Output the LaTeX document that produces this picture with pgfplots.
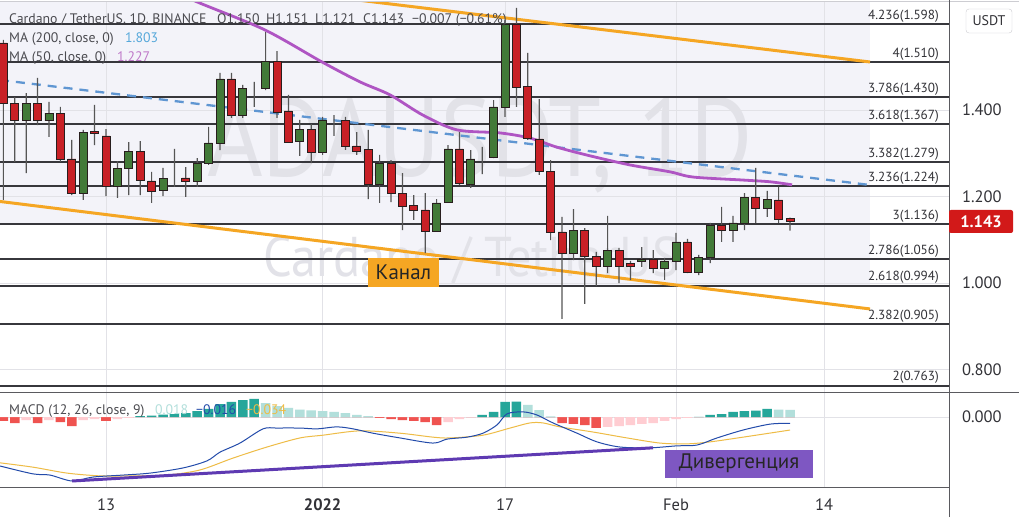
\documentclass[border=0pt]{standalone}
\usepackage{pgfplots}
\pgfplotsset{compat=1.18}
\usepackage{pgfplotstable}
\usepackage{fontspec}
\setmainfont{PT Sans}

\definecolor{candlered}{RGB}{200,32,38}
\definecolor{candlegreen}{RGB}{66,122,56}
\definecolor{candleborder}{RGB}{40,30,30}
\definecolor{wickcol}{RGB}{85,85,85}
\definecolor{fibcol}{RGB}{55,55,60}
\definecolor{chanorange}{RGB}{245,166,35}
\definecolor{dashblue}{RGB}{95,150,210}
\definecolor{mapurple}{RGB}{175,85,195}
\definecolor{gridcol}{RGB}{226,226,231}
\definecolor{lavbg}{RGB}{243,243,249}
\definecolor{wmcol}{RGB}{226,226,232}
\definecolor{textgray}{RGB}{75,75,80}
\definecolor{axtext}{RGB}{50,50,55}
\definecolor{macdblue}{RGB}{35,75,170}
\definecolor{sigyellow}{RGB}{238,188,70}
\definecolor{histteal}{RGB}{38,166,154}
\definecolor{histlteal}{RGB}{178,223,219}
\definecolor{histred}{RGB}{239,83,80}
\definecolor{histpink}{RGB}{255,205,210}
\definecolor{divpurple}{RGB}{94,58,178}
\definecolor{divbox}{RGB}{126,87,194}
\definecolor{tagred}{RGB}{210,25,25}
\definecolor{framecol}{RGB}{90,90,95}
\definecolor{boxgray}{RGB}{205,205,210}
\definecolor{ma200}{RGB}{86,168,218}
\definecolor{ma50}{RGB}{190,120,200}

% day index: 0 = 13 Dec 2021
\pgfplotstableread{
d o h l c
-9 1.555 1.562 1.192 1.416
-8 1.416 1.430 1.280 1.375
-7 1.375 1.439 1.254 1.416
-6 1.416 1.474 1.365 1.375
-5 1.375 1.419 1.338 1.393
-4 1.393 1.407 1.280 1.287
-3 1.287 1.331 1.203 1.208
-2 1.208 1.354 1.192 1.349
-1 1.351 1.412 1.319 1.345
0 1.340 1.356 1.201 1.224
1 1.224 1.282 1.197 1.264
2 1.266 1.326 1.203 1.305
3 1.305 1.328 1.203 1.238
4 1.236 1.257 1.185 1.213
5 1.215 1.266 1.201 1.241
6 1.241 1.310 1.222 1.241
7 1.243 1.268 1.199 1.234
8 1.234 1.289 1.222 1.277
9 1.277 1.361 1.273 1.324
10 1.324 1.486 1.307 1.472
11 1.472 1.486 1.382 1.388
12 1.388 1.458 1.382 1.449
13 1.451 1.465 1.407 1.451
14 1.451 1.580 1.446 1.513
15 1.513 1.536 1.382 1.395
16 1.398 1.435 1.324 1.326
17 1.328 1.377 1.294 1.356
18 1.356 1.368 1.277 1.303
19 1.303 1.384 1.296 1.377
20 1.375 1.388 1.340 1.375
21 1.375 1.384 1.308 1.315
22 1.317 1.349 1.296 1.305
23 1.308 1.354 1.194 1.227
24 1.227 1.296 1.185 1.277
25 1.277 1.284 1.187 1.208
26 1.208 1.254 1.122 1.178
27 1.180 1.203 1.146 1.167
28 1.169 1.208 1.069 1.120
29 1.120 1.194 1.118 1.185
30 1.187 1.319 1.185 1.310
31 1.310 1.349 1.227 1.231
32 1.229 1.307 1.220 1.287
33 1.291 1.315 1.252 1.291
34 1.291 1.423 1.289 1.407
35 1.407 1.608 1.384 1.599
36 1.599 1.636 1.407 1.453
37 1.455 1.532 1.331 1.335
38 1.333 1.425 1.250 1.257
39 1.257 1.284 1.099 1.118
40 1.118 1.153 0.917 1.069
41 1.069 1.171 1.053 1.122
42 1.122 1.127 0.952 1.062
43 1.062 1.072 0.993 1.039
44 1.039 1.155 1.023 1.076
45 1.076 1.081 1.000 1.039
46 1.046 1.051 1.007 1.039
47 1.049 1.083 1.037 1.055
48 1.055 1.076 1.023 1.035
49 1.035 1.058 1.007 1.051
50 1.051 1.116 1.030 1.095
51 1.095 1.102 1.023 1.025
52 1.025 1.065 1.018 1.060
53 1.060 1.139 1.046 1.134
54 1.134 1.176 1.095 1.122
55 1.122 1.155 1.095 1.139
56 1.139 1.208 1.122 1.197
57 1.197 1.266 1.139 1.173
58 1.173 1.213 1.153 1.194
59 1.192 1.222 1.139 1.148
60 1.150 1.151 1.121 1.143
}\candles

\pgfplotstableread{
d v
6.00 1.673
8.25 1.647
13.95 1.585
18.95 1.511
22.28 1.465
24.91 1.435
27.81 1.388
30.79 1.354
34.56 1.347
37.19 1.335
39.56 1.314
42.46 1.294
45.96 1.273
49.47 1.257
51.49 1.245
55.88 1.238
58.25 1.234
60.18 1.227
}\maf

\pgfplotstableread{
d v
-9.30 -0.124
-6.40 -0.144
-4.91 -0.147
-2.98 -0.162
-1.14 -0.152
1.49 -0.147
3.86 -0.142
6.75 -0.129
8.86 -0.111
10.00 -0.089
11.75 -0.066
13.77 -0.030
15.00 -0.028
17.02 -0.028
18.51 -0.030
20.26 -0.025
21.67 -0.030
23.42 -0.041
25.79 -0.053
28.68 -0.066
29.91 -0.056
31.67 -0.051
33.07 -0.041
34.30 -0.020
35.18 0.008
36.58 0.013
37.81 0.005
39.21 -0.015
41.32 -0.041
43.07 -0.063
45.09 -0.076
47.72 -0.078
50.09 -0.073
51.84 -0.071
53.60 -0.053
55.88 -0.033
58.25 -0.018
60.00 -0.016
}\macd

\pgfplotstableread{
d v
-9.30 -0.116
-6.40 -0.127
-3.42 -0.142
-0.53 -0.149
2.37 -0.149
5.35 -0.147
8.25 -0.134
11.14 -0.104
14.12 -0.076
17.02 -0.053
19.04 -0.046
22.28 -0.035
25.79 -0.041
28.68 -0.051
30.18 -0.053
33.07 -0.046
35.44 -0.028
37.19 -0.015
38.33 -0.015
39.82 -0.025
42.72 -0.038
45.70 -0.053
48.60 -0.066
50.96 -0.068
52.98 -0.063
55.88 -0.051
60.00 -0.033
}\sig

% k: 0 rising positive, 1 falling positive, 2 falling negative, 3 rising negative
\pgfplotstableread{
d v k
-9 -0.0101 2
-8 -0.0152 2
-7 -0.0076 3
-6 -0.0152 2
-5 -0.0076 3
-4 -0.0127 2
-3 -0.0228 2
-2 -0.0076 3
-1 -0.0051 3
0 -0.0101 2
1 -0.0051 3
2 -0.0025 3
3 0.0025 0
4 0.0038 0
5 0.0063 0
6 0.0076 0
7 0.0101 0
8 0.0152 0
9 0.0203 0
10 0.0329 0
11 0.0380 0
12 0.0430 0
13 0.0456 0
14 0.0354 1
15 0.0278 1
16 0.0228 1
17 0.0185 1
18 0.0170 1
19 0.0152 1
20 0.0127 1
21 0.0101 1
22 0.0051 1
23 0.0025 1
24 -0.0025 2
25 -0.0051 2
26 -0.0076 2
27 -0.0101 2
28 -0.0127 2
29 -0.0203 2
30 -0.0127 3
31 -0.0051 3
32 -0.0013 3
33 0.0051 0
34 0.0127 0
35 0.0380 0
36 0.0390 0
37 0.0304 1
38 0.0177 1
39 0.0013 1
40 -0.0152 2
41 -0.0177 2
42 -0.0203 2
43 -0.0278 2
44 -0.0253 3
45 -0.0228 3
46 -0.0203 3
47 -0.0177 3
48 -0.0152 3
49 -0.0101 3
50 -0.0051 3
51 -0.0025 3
52 0.0005 0
53 0.0051 0
54 0.0076 0
55 0.0127 0
56 0.0152 0
57 0.0160 0
58 0.0203 0
59 0.0190 1
60 0.0180 1
}\hist

\newcommand{\lf}{\fontsize{13.8}{16}\selectfont}
\newcommand{\af}{\fontsize{16.5}{19}\selectfont}

\pgfplotsset{
  mainbox/.style={at={(0pt,515pt)}, anchor=north west, scale only axis,
    width=949pt, height=390pt,
    xmin=-9.298, xmax=73.947, ymin=0.748, ymax=1.6497},
}

\begin{document}
\begin{tikzpicture}[x=1pt,y=1pt]
\useasboundingbox (0pt,0pt) rectangle (1019pt,517pt);
\fill[white] (0pt,0pt) rectangle (1019pt,517pt);
% shaded zone
\fill[lavbg] (0pt,292pt) rectangle (870pt,515pt);
\fill[lavbg] (400pt,232pt) rectangle (870pt,292pt);
% watermark
\node[text=wmcol, font=\fontsize{112}{112}\selectfont, xscale=0.85, inner sep=0] at (480pt,372pt) {ADAUSDT, 1D};
\node[text=wmcol, font=\fontsize{56}{56}\selectfont, xscale=0.9, inner sep=0] at (471pt,257pt) {Cardano / TetherUS};

% main price panel
\begin{axis}[mainbox,
  axis line style={draw=none}, tick style={draw=none},
  xtick={0,19,35,50,63}, xticklabels={,,,,},
  ytick={0.8,1.0,1.2,1.4}, yticklabels={0.800,1.000,1.200,1.400},
  yticklabel pos=right,
  yticklabel style={anchor=west, inner sep=0pt, xshift=13pt, font=\af, text=axtext},
  grid=major, major grid style={gridcol, line width=0.8pt},
]
\pgfplotsinvokeforeach{1.598,1.510,1.430,1.367,1.279,1.224,1.136,1.056,0.994,0.905,0.763}{
  \addplot[fibcol, line width=2pt, forget plot] coordinates {(-10,#1) (80,#1)};
}
\addplot[chanorange, line width=3pt] coordinates {(-9.298,1.1885) (67.02,0.940)};
\addplot[chanorange, line width=3pt] coordinates {(14.0,1.680) (67.02,1.511)};
\addplot[dashblue, line width=2.3pt, dash pattern=on 9pt off 7pt] coordinates {(-9.298,1.4694) (67.02,1.2266)};
\addplot[mapurple, line width=2.8pt, smooth] table[x=d,y=v] {\maf};
\end{axis}

% wicks
\begin{axis}[mainbox, hide axis, ybar stacked, bar width=1.2pt]
\addplot[draw=none, fill=none] table[x=d, y=l] {\candles};
\addplot[draw=none, fill=wickcol] table[x=d, y expr={\thisrow{h}-\thisrow{l}}] {\candles};
\end{axis}

% bodies
\begin{axis}[mainbox, hide axis, ybar stacked, bar width=8pt]
\addplot[draw=none, fill=none] table[x=d, y expr={min(\thisrow{o},\thisrow{c})}] {\candles};
\addplot[fill=candlered, draw=candleborder, line width=0.7pt] table[x=d, y expr={(\thisrow{c}<\thisrow{o})*(\thisrow{o}-\thisrow{c})}] {\candles};
\addplot[fill=candlegreen, draw=candleborder, line width=0.7pt] table[x=d, y expr={(\thisrow{c}>=\thisrow{o})*(\thisrow{c}-\thisrow{o})}] {\candles};
\end{axis}

% MACD panel
\begin{axis}[at={(0pt,125pt)}, anchor=north west, scale only axis,
  width=949pt, height=95pt,
  xmin=-9.298, xmax=73.947, ymin=-0.1772, ymax=0.0633,
  axis line style={draw=none}, tick style={draw=none},
  xtick={0,19,35,50,63}, xticklabels={13,\textbf{2022},17,Feb,14},
  xticklabel style={anchor=center, yshift=-18pt, inner sep=0pt, font=\af, text=axtext},
  ytick={0}, yticklabels={0.000}, yticklabel pos=right,
  yticklabel style={anchor=west, inner sep=0pt, xshift=13pt, font=\af, text=axtext},
  grid=major, major grid style={gridcol, line width=0.8pt},
]
\addplot[ybar, bar width=9.5pt, bar shift=0pt, fill=histteal, draw=none] table[x=d, y expr={(\thisrow{k}==0)*\thisrow{v}}] {\hist};
\addplot[ybar, bar width=9.5pt, bar shift=0pt, fill=histlteal, draw=none] table[x=d, y expr={(\thisrow{k}==1)*\thisrow{v}}] {\hist};
\addplot[ybar, bar width=9.5pt, bar shift=0pt, fill=histred, draw=none] table[x=d, y expr={(\thisrow{k}==2)*\thisrow{v}}] {\hist};
\addplot[ybar, bar width=9.5pt, bar shift=0pt, fill=histpink, draw=none] table[x=d, y expr={(\thisrow{k}==3)*\thisrow{v}}] {\hist};
\addplot[sigyellow, line width=1pt, smooth] table[x=d,y=v] {\sig};
\addplot[macdblue, line width=1pt, smooth] table[x=d,y=v] {\macd};
\addplot[divpurple, line width=3pt] coordinates {(-2.98,-0.162) (47.98,-0.078)};
\end{axis}

% frames
\draw[boxgray, line width=0.8pt] (0pt,515.5pt) -- (1019pt,515.5pt);
\draw[framecol, line width=1pt] (0pt,125pt) -- (1019pt,125pt);
\draw[framecol, line width=1pt] (0pt,30pt) -- (949pt,30pt);
\draw[framecol, line width=1pt] (949pt,0pt) -- (949pt,517pt);

% fib labels
\foreach \yy/\lbl in {24.4/4.236(1.598), 62.4/4(1.510), 97.0/3.786(1.430), 124.3/3.618(1.367), 162.3/3.382(1.279), 186.1/3.236(1.224), 224.2/3(1.136), 258.8/2.786(1.056), 285.6/2.618(0.994), 324.1/2.382(0.905), 385.5/2(0.763)}{
  \node[anchor=south east, inner sep=0pt, font=\fontsize{13.2}{15}\selectfont, text=axtext] at (939pt,{(517-\yy+1.5)*1pt}) {\lbl};
}

% legends
\node[anchor=base west, inner sep=0, font=\lf, text=textgray] at (9pt,493.5pt) {Cardano / TetherUS. 1D. BINANCE};
\node[anchor=base west, inner sep=0, font=\lf, text=textgray] at (217pt,493.5pt) {O1.150};
\node[anchor=base west, inner sep=0, font=\lf, text=textgray] at (266pt,493.5pt) {H1.151};
\node[anchor=base west, inner sep=0, font=\lf, text=textgray] at (315pt,493.5pt) {L1.121};
\node[anchor=base west, inner sep=0, font=\lf, text=textgray] at (363pt,493.5pt) {C1.143};
\node[anchor=base west, inner sep=0, font=\lf, text=textgray] at (412pt,493.5pt) {−0.007 (−0.61\%)};
\node[anchor=base west, inner sep=0, font=\lf, text=textgray] at (9pt,474pt) {MA (200, close, 0)};
\node[anchor=base west, inner sep=0, font=\lf, text=ma200] at (125pt,474pt) {1.803};
\node[anchor=base west, inner sep=0, font=\lf, text=textgray] at (9pt,455pt) {MA (50, close, 0)};
\node[anchor=base west, inner sep=0, font=\lf, text=ma50] at (117pt,455pt) {1.227};
\node[anchor=base west, inner sep=0, font=\lf, text=textgray] at (9pt,103pt) {MACD (12, 26, close, 9)};
\node[anchor=base west, inner sep=0, font=\lf, text=histlteal] at (155pt,103pt) {0.018};
\node[anchor=base west, inner sep=0, font=\lf, text=macdblue] at (196pt,103pt) {−0.016};
\node[anchor=base west, inner sep=0, font=\lf, text=sigyellow] at (246pt,103pt) {−0.034};

% annotations
\node[fill=chanorange, minimum width=71pt, minimum height=29pt, inner sep=0, text=black!85, font=\fontsize{21}{24}\selectfont] at (403.5pt,244.5pt) {Канал};
\node[fill=divbox, minimum width=148pt, minimum height=28pt, inner sep=0, text=black!85, font=\fontsize{21}{24}\selectfont] at (739pt,53.5pt) {Дивергенция};

% price scale extras
\node[draw=boxgray, rounded corners=3pt, fill=white, minimum width=46pt, minimum height=24pt, inner sep=0, font=\fontsize{14}{16}\selectfont, text=axtext] at (989pt,496pt) {USDT};
\node[fill=tagred, rounded corners=2pt, minimum width=64pt, minimum height=23pt, inner sep=0, text=white, font=\bfseries\af] at (981pt,295.5pt) {1.143};
\end{tikzpicture}
\end{document}
